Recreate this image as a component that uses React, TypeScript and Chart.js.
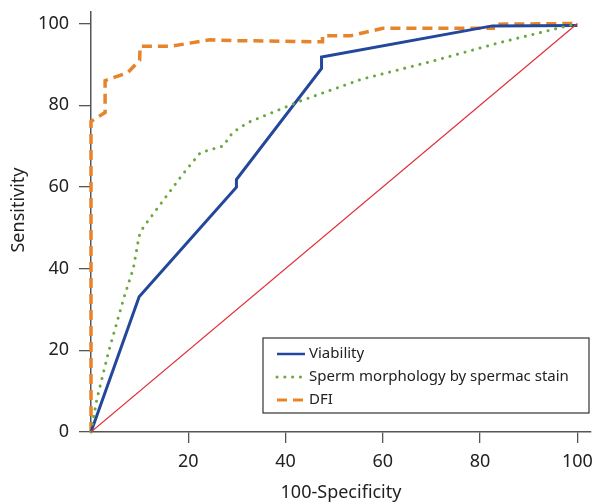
import { useEffect, useRef } from "react";
import { Chart, registerables } from "chart.js";
Chart.register(...registerables);

const viabilityX = [0, 9.9, 29.9, 29.9, 47.4, 47.4, 82.5, 100];
const viabilityY = [0, 33.1, 59.9, 61.8, 89, 91.8, 99.4, 99.5];
const morphX = [0, 1.2, 3.7, 6.8, 8.7, 9.9, 10.7, 13.8, 18.8, 22.5, 27.2, 29.1, 32.2, 43, 55.5, 70, 84, 100];
const morphY = [0, 8, 20, 33, 40, 48, 50, 55, 63, 68.4, 70, 73.3, 75.7, 81, 86.3, 90.7, 95.3, 100];
const dfiX = [0, 0, 2.9, 2.9, 7.6, 10, 10.1, 16.3, 24.5, 29.7, 47.6, 47.6, 53.4, 60, 82.7, 82.7, 100];
const dfiY = [0, 76, 78.2, 86, 88, 91, 94.4, 94.4, 96, 95.8, 95.5, 97, 97, 98.8, 98.8, 99.8, 100];
const refX = [0, 100];
const refY = [0, 100];
const xTicks = [20, 40, 60, 80, 100];
const yTicks = [0, 20, 40, 60, 80, 100];
const seriesNames = ["Viability", "Sperm morphology by spermac stain", "DFI"];
const xTitle = "100-Specificity";
const yTitle = "Sensitivity";

const FONT = "'Noto Sans', sans-serif";

function pts(xs: number[], ys: number[]) {
  return xs.map((x, i) => ({ x, y: ys[i] }));
}

const legendPlugin = {
  id: "boxLegend",
  afterDraw(chart: any) {
    const ctx = chart.ctx;
    const x0 = 263, y0 = 338, w = 326, h = 75;
    ctx.save();
    ctx.fillStyle = "#fff";
    ctx.fillRect(x0, y0, w, h);
    ctx.strokeStyle = "#333";
    ctx.lineWidth = 1.2;
    ctx.strokeRect(x0, y0, w, h);
    const items = chart.data.datasets
      .filter((d: any) => d.legendIndex !== undefined)
      .sort((a: any, b: any) => a.legendIndex - b.legendIndex);
    items.forEach((d: any, i: number) => {
      const cy = y0 + 16 + i * 23;
      ctx.beginPath();
      ctx.strokeStyle = d.borderColor;
      ctx.lineWidth = d.legendWidth;
      ctx.lineCap = d.borderCapStyle || "butt";
      ctx.setLineDash(d.legendDash || []);
      ctx.moveTo(277, cy);
      ctx.lineTo(305, cy);
      ctx.stroke();
      ctx.setLineDash([]);
      ctx.fillStyle = "#222";
      ctx.font = "15px " + FONT;
      ctx.textBaseline = "middle";
      ctx.fillText(d.label, 309, cy);
    });
    // y axis title
    ctx.save();
    ctx.translate(19, 210);
    ctx.rotate(-Math.PI / 2);
    ctx.fillStyle = "#222";
    ctx.font = "18px " + FONT;
    ctx.textAlign = "center";
    ctx.textBaseline = "middle";
    ctx.fillText(yTitle, 0, 0);
    ctx.restore();
    ctx.restore();
  },
};

export default function App() {
  const ref = useRef<HTMLCanvasElement>(null);
  useEffect(() => {
    const chart = new Chart(ref.current!, {
      type: "line",
      data: {
        datasets: [
          {
            label: "Reference",
            data: pts(refX, refY),
            borderColor: "#e0303a",
            borderWidth: 1.2,
            pointRadius: 0,
          } as any,
          {
            label: seriesNames[1],
            data: pts(morphX, morphY),
            borderColor: "#6aa842",
            borderWidth: 3,
            borderDash: [0.1, 7.7],
            borderCapStyle: "round",
            pointRadius: 0,
            clip: 6,
            legendIndex: 1,
            legendWidth: 3,
            legendDash: [0.1, 7.7],
          } as any,
          {
            label: seriesNames[0],
            data: pts(viabilityX, viabilityY),
            borderColor: "#23479a",
            borderWidth: 3,
            pointRadius: 0,
            clip: 6,
            legendIndex: 0,
            legendWidth: 2.5,
          } as any,
          {
            label: seriesNames[2],
            data: pts(dfiX, dfiY),
            borderColor: "#e6832b",
            borderWidth: 3.5,
            borderDash: [10, 6],
            pointRadius: 0,
            clip: 6,
            legendIndex: 2,
            legendWidth: 3,
            legendDash: [10, 6],
          } as any,
        ],
      },
      options: {
        animation: false,
        responsive: false,
        maintainAspectRatio: false,
        layout: { padding: { top: 12, right: 3, left: 0, bottom: 0 } },
        plugins: { legend: { display: false }, tooltip: { enabled: false } },
        elements: { line: { tension: 0 } },
        scales: {
          x: {
            type: "linear",
            min: 0,
            max: 102.8,
            afterBuildTicks: (s: any) => {
              s.ticks = xTicks.map((v) => ({ value: v }));
            },
            afterFit: (s: any) => {
              s.height = 72;
              s.paddingLeft = 0;
              s.paddingRight = 0;
            },
            grid: { drawOnChartArea: false, drawTicks: true, tickLength: 11, color: "#555", lineWidth: 1.3 },
            border: { display: true, color: "#555", width: 1.5 },
            ticks: { font: { size: 18, family: FONT }, color: "#222", padding: 8, maxRotation: 0 },
            title: { display: true, text: xTitle, font: { size: 18, family: FONT }, color: "#222", padding: { top: 6, bottom: 0 } },
          },
          y: {
            type: "linear",
            min: 0,
            max: 102.8,
            afterBuildTicks: (s: any) => {
              s.ticks = yTicks.map((v) => ({ value: v }));
            },
            afterFit: (s: any) => {
              s.width = 91;
              s.paddingTop = 0;
              s.paddingBottom = 0;
            },
            grid: { drawOnChartArea: false, drawTicks: true, tickLength: 12, color: "#555", lineWidth: 1.3 },
            border: { display: true, color: "#555", width: 1.5 },
            ticks: { font: { size: 18, family: FONT }, color: "#222", padding: 10 },
            title: { display: false },
          },
        },
      } as any,
      plugins: [legendPlugin],
    });
    return () => chart.destroy();
  }, []);
  return (
    <div style={{ position: "fixed", left: 0, top: 0, width: 594, height: 504, background: "#fff" }}>
      <canvas ref={ref} width={594} height={504} style={{ width: 594, height: 504 }} />
    </div>
  );
}
